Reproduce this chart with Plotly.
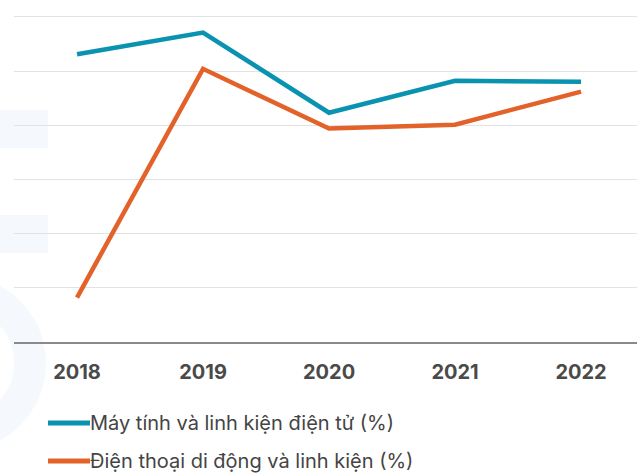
import plotly.graph_objects as go

years = ["2018", "2019", "2020", "2021", "2022"]
computers = [53.1, 57.1, 42.3, 48.2, 48.0]
phones = [8.2, 50.4, 39.4, 40.1, 46.2]
names = ["Máy tính và linh kiện điện tử (%)", "Điện thoại di động và linh kiện (%)"]
colors = ["#0a93b0", "#e2622a"]

fig = go.Figure()
for i, (vals, name) in enumerate(zip([computers, phones], names)):
    fig.add_trace(go.Scatter(
        x=list(range(len(years))), y=vals, name=name, mode="lines",
        line=dict(color=colors[i], width=4.5), showlegend=False,
    ))

# faint watermark shapes
wm = "#f5f8fc"
common = dict(xref="paper", yref="paper", xsizemode="pixel", ysizemode="pixel",
              xanchor=0, yanchor=0, layer="below")
fig.add_shape(type="rect", x0=-14, x1=34, y0=194, y1=232, fillcolor=wm, line_width=0, **common)
fig.add_shape(type="rect", x0=-14, x1=34, y0=89, y1=127, fillcolor=wm, line_width=0, **common)
fig.add_shape(type="circle", x0=-128, x1=16, y0=-93, y1=51, line=dict(color=wm, width=32), **common)

# manual legend
legend_y = [-0.2368, -0.348]
for i, name in enumerate(names):
    fig.add_shape(type="line", xref="paper", yref="paper", x0=0.0546, x1=0.122,
                  y0=legend_y[i], y1=legend_y[i], line=dict(color=colors[i], width=5))
    fig.add_annotation(text=name, xref="paper", yref="paper", x=0.1195, y=legend_y[i],
                       xanchor="left", yanchor="middle", showarrow=False,
                       font=dict(size=20, color="#444", family="Inter, Roboto, sans-serif"))

fig.update_layout(
    width=637, height=473,
    margin=dict(l=14, r=0, t=0, b=131, autoexpand=False),
    paper_bgcolor="white", plot_bgcolor="rgba(0,0,0,0)",
    font=dict(family="Inter, Roboto, sans-serif", color="#444"),
    showlegend=False,
    xaxis=dict(
        range=[-0.5, 4.444], tickmode="array", tickvals=list(range(len(years))), ticktext=years,
        showgrid=False, showline=True, linecolor="#8a8a8a", linewidth=1.5, zeroline=False,
        tickfont=dict(size=20, color="#4a4a4a", family="Inter, Roboto, sans-serif", weight="bold"),
        ticks="", ticklabelstandoff=11,
    ),
    yaxis=dict(
        range=[0, 63.1], dtick=10, tick0=0, showgrid=True, gridcolor="#e2e2e2", gridwidth=1.2,
        showticklabels=False, zeroline=False, showline=False,
    ),
)

fig.write_html("out.html", config={"displayModeBar": False},
               post_script="document.body.style.margin='0';document.body.style.overflow='hidden';")
